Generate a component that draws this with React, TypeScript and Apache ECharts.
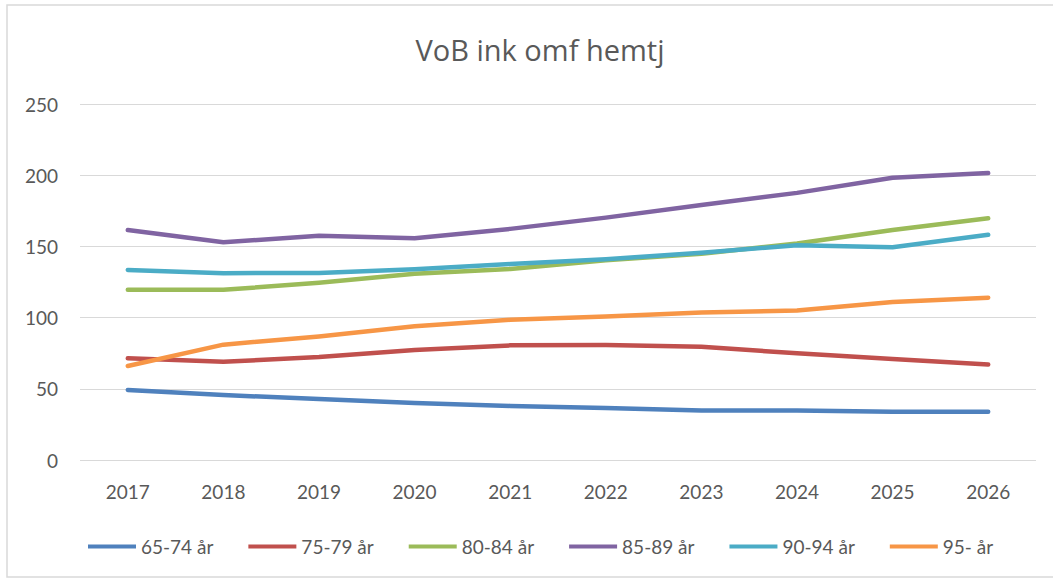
import React, { useEffect, useRef } from "react";
import * as echarts from "echarts";

const years = ["2017", "2018", "2019", "2020", "2021", "2022", "2023", "2024", "2025", "2026"];
const s6574 = [49.2, 45.6, 42.8, 40, 38, 36.6, 34.8, 34.7, 33.9, 33.8];
const s7579 = [71.4, 69, 72.3, 77.2, 80.5, 80.7, 79.6, 74.9, 70.9, 67];
const s8084 = [119.5, 119.5, 124.5, 130.8, 134.2, 140.3, 144.8, 152, 161.5, 169.8];
const s8589 = [161.5, 152.9, 157.5, 155.7, 162.3, 170.2, 179, 187.6, 198.2, 201.5];
const s9094 = [133.5, 131.2, 131.4, 133.9, 137.6, 141, 145.6, 150.8, 149.4, 158.2];
const s95 = [66, 81, 86.8, 94, 98.5, 100.7, 103.5, 105, 111, 114];
const names = ["65-74 år", "75-79 år", "80-84 år", "85-89 år", "90-94 år", "95- år"];
const colors = ["#4F81BD", "#C0504D", "#9BBB59", "#8064A2", "#4BACC6", "#F79646"];

export default function App() {
  const ref = useRef<HTMLDivElement>(null);
  useEffect(() => {
    if (!ref.current) return;
    const chart = echarts.init(ref.current, null, { renderer: "svg" });
    const data = [s6574, s7579, s8084, s8589, s9094, s95];
    const font = "Lato, 'Open Sans', sans-serif";
    chart.setOption({
      animation: false,
      backgroundColor: "#ffffff",
      title: {
        text: "VoB ink omf hemtj",
        left: 535,
        textAlign: "center",
        top: 30,
        textStyle: { fontFamily: "'Open Sans', Lato, sans-serif", fontSize: 29, fontWeight: "normal", color: "#595959" },
      },
      graphic: [
        {
          type: "rect",
          shape: { x: 7, y: 5, width: 1060, height: 572 },
          style: { fill: "none", stroke: "#d9d9d9", lineWidth: 1.5 },
          silent: true,
        },
      ],
      legend: {
        left: 83,
        top: 532,
        itemWidth: 48,
        itemHeight: 4,
        itemGap: 35,
        icon: "rect",
        data: names,
        textStyle: { fontFamily: font, fontSize: 19, color: "#595959", padding: [0, 0, 0, 0] },
      },
      grid: { left: 80, right: 17, top: 104, bottom: 119 },
      xAxis: {
        type: "category",
        data: years,
        boundaryGap: true,
        axisLine: { show: false },
        axisTick: { show: false },
        axisLabel: { margin: 22, fontFamily: font, fontSize: 19, color: "#595959" },
      },
      yAxis: {
        type: "value",
        min: 0,
        max: 250,
        interval: 50,
        axisLine: { show: false },
        axisTick: { show: false },
        axisLabel: { margin: 22, fontFamily: font, fontSize: 19, color: "#595959" },
        splitLine: { lineStyle: { color: "#d9d9d9", width: 1 } },
      },
      series: names.map((n, i) => ({
        name: n,
        type: "line",
        data: data[i],
        showSymbol: false,
        symbol: "none",
        color: colors[i],
        lineStyle: { width: 4.5, color: colors[i], cap: "round", join: "round" },
      })),
    });
    return () => chart.dispose();
  }, []);
  return (
    <div
      ref={ref}
      style={{ position: "fixed", left: 0, top: 0, width: 1053, height: 579 }}
    />
  );
}
